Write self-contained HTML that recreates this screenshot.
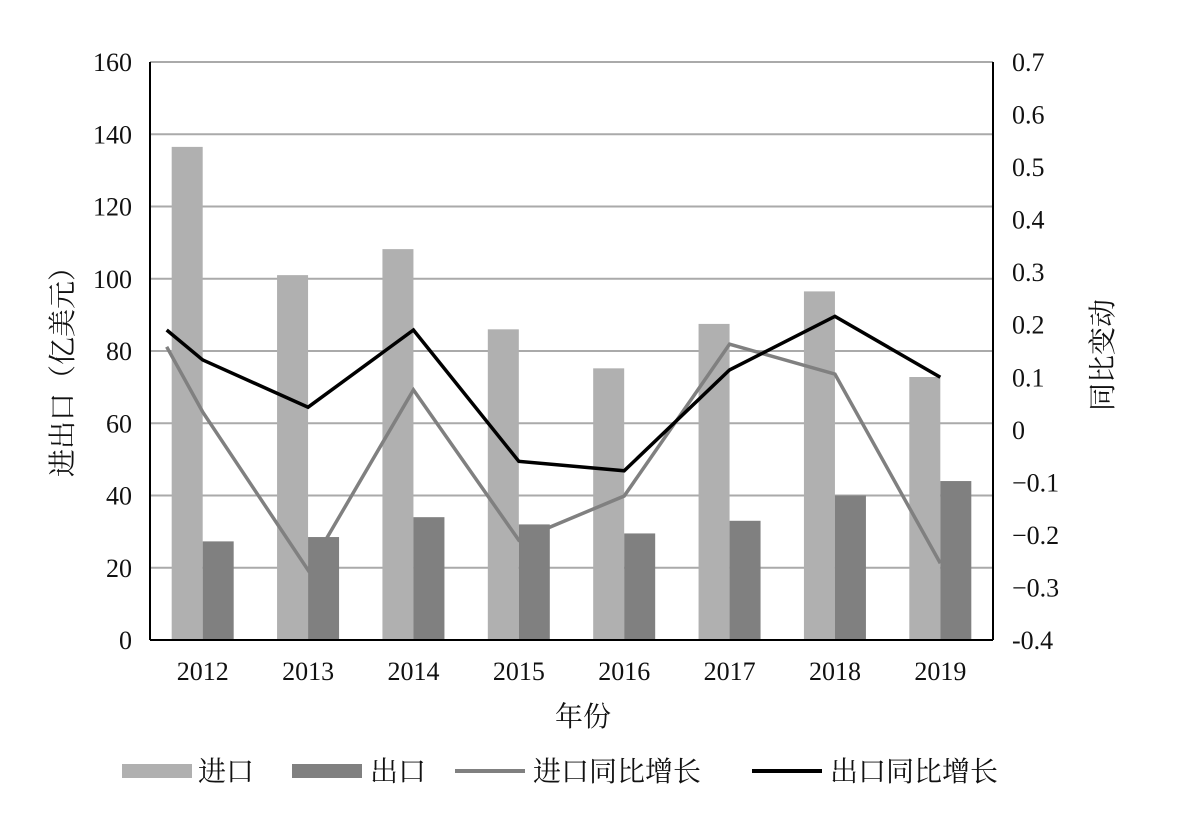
<!DOCTYPE html>
<html><head><meta charset="utf-8"><style>
body{margin:0;background:#fff}
svg text{font-family:"Liberation Serif","Noto Serif CJK SC",serif;fill:#111}
</style></head><body>
<svg id="c" width="1190" height="798"></svg>
<script>
const categories=["2012","2013","2014","2015","2016","2017","2018","2019"];
const imports=[136.5,101,108.2,86,75.2,87.5,96.5,72.8];
const exports_=[27.3,28.5,34,32,29.5,33,40,44];
const importGrowthStart=0.158;
const importGrowth=[0.034,-0.267,0.076,-0.21,-0.126,0.163,0.106,-0.254];
const exportGrowthStart=0.19;
const exportGrowth=[0.133,0.043,0.19,-0.06,-0.078,0.114,0.216,0.10];
const leftTicks=[0,20,40,60,80,100,120,140,160];
const rightTicks=["-0.4","-0.3","-0.2","-0.1","0","0.1","0.2","0.3","0.4","0.5","0.6","0.7"];

const svg=document.getElementById('c');const NS="http://www.w3.org/2000/svg";
const X0=150,X1=993,Y0=640,Y1=62;
const band=(X1-X0)/categories.length;
const xc=i=>X0+band*(i+0.5);
const yL=v=>Y0-(v/160)*(Y0-Y1);
const yR=v=>Y0-((v+0.4)/1.1)*(Y0-Y1);
function mk(t,a,txt){const e=document.createElementNS(NS,t);for(const k in a)e.setAttribute(k,a[k]);if(txt!==undefined)e.textContent=txt;svg.appendChild(e);return e;}
leftTicks.forEach(v=>{
 if(v>0){const g=mk('line',{x1:X0,x2:X1,y1:yL(v),y2:yL(v),stroke:'#aaa','stroke-width':2});
 
 }
 const t=mk('text',{x:132,y:yL(v)+9,'text-anchor':'end','font-size':26},v);
 
 
});
rightTicks.forEach(s=>{
 const t=mk('text',{x:1012,y:yR(parseFloat(s))+9,'font-size':26},s.replace('-','\u2212').replace('\u22120.4','-0.4'));
 
 
});
categories.forEach((c,i)=>{
 const b1=mk('rect',{x:xc(i)-31,y:yL(imports[i]),width:31,height:Y0-yL(imports[i]),fill:'#b0b0b0'});
 
 
 const b2=mk('rect',{x:xc(i),y:yL(exports_[i]),width:31,height:Y0-yL(exports_[i]),fill:'#808080'});
 
 
 const t=mk('text',{x:xc(i),y:680,'text-anchor':'middle','font-size':26},c);
 
 
});
function line(start,arr,col,name){
 let p=[[xc(0)-36,yR(start)]];arr.forEach((v,i)=>p.push([xc(i),yR(v)]));
 const l=mk('polyline',{points:p.map(q=>q.join(',')).join(' '),fill:'none',stroke:col,'stroke-width':3.5});
 
 
}
line(importGrowthStart,importGrowth,'#808080','import-growth-line');
line(exportGrowthStart,exportGrowth,'#000','export-growth-line');
const a1=mk('line',{x1:X0,x2:X0,y1:Y1,y2:Y0,stroke:'#000','stroke-width':2});

const a2=mk('line',{x1:X1,x2:X1,y1:Y1,y2:Y0,stroke:'#000','stroke-width':2});

const a3=mk('line',{x1:X0,x2:X1,y1:Y0,y2:Y0,stroke:'#000','stroke-width':2});

</script>
<svg width="0" height="0"></svg>
<div style="position:absolute;left:0;top:0;width:1190px;height:798px;pointer-events:none">
<svg width="1190" height="798" style="position:absolute;left:0;top:0">
<text x="583" y="726" text-anchor="middle" font-size="28" style="font-family:'Liberation Serif','Noto Serif CJK SC',serif">年份</text>
<text transform="translate(72,365) rotate(-90)" text-anchor="middle" font-size="28" style="font-family:'Liberation Serif','Noto Serif CJK SC',serif">进出口（亿美元）</text>
<text transform="translate(1112,355) rotate(-90)" text-anchor="middle" font-size="28" style="font-family:'Liberation Serif','Noto Serif CJK SC',serif">同比变动</text>
<g font-size="28" style="font-family:'Liberation Serif','Noto Serif CJK SC',serif">
<rect x="122" y="764" width="70" height="14" fill="#b0b0b0"/>
<text x="198" y="781">进口</text>
<rect x="292" y="764" width="70" height="14" fill="#808080"/>
<text x="370" y="781">出口</text>
<line x1="455" x2="525" y1="771" y2="771" stroke="#808080" stroke-width="4"/>
<text x="533" y="781">进口同比增长</text>
<line x1="752" x2="822" y1="771" y2="771" stroke="#000" stroke-width="4"/>
<text x="830" y="781">出口同比增长</text>
</g>
</svg></div>
</body></html>
